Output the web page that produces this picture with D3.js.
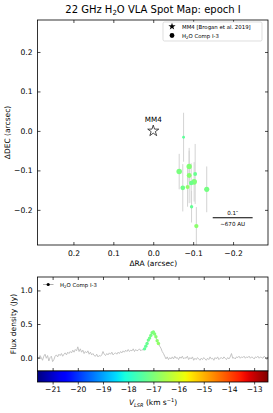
<!DOCTYPE html>
<html>
<head>
<meta charset="utf-8">
<script src="https://cdn.jsdelivr.net/npm/d3@7"></script>
<style>
  body { margin: 0; background: #fff; }
  svg text { font-family: "DejaVu Sans", sans-serif; fill: #000; }
</style>
</head>
<body>
<div id="chart"></div>
<script>
// spot map data (one spot per channel)
const spotRA   = [-0.076, -0.065, -0.090, -0.105, -0.090, -0.1025, -0.095, -0.074, -0.086, -0.134, -0.096, -0.108];
const spotDEC  = [-0.016, -0.103, -0.090, -0.109, -0.113, -0.129, -0.132, -0.144, -0.142, -0.148, -0.192, -0.241];
const spotErr  = [0.062, 0.045, 0.040, 0.076, 0.070, 0.050, 0.050, 0.060, 0.050, 0.058, 0.040, 0.048];
const spotVel  = [-17.35, -17.05, -16.95, -17.25, -16.90, -17.00, -17.20, -17.15, -16.80, -17.10, -17.30, -16.85];
const spotFlux = [0.13, 0.37, 0.35, 0.21, 0.31, 0.38, 0.26, 0.29, 0.21, 0.33, 0.17, 0.25];

const mapTicks = [0.2, 0.1, 0.0, -0.1, -0.2];

// spectrum: first channel velocity, channel width, flux per channel
const specV0 = -21.6;
const specDV = 0.05;
const specFlux = [
  0.01, -0.02, 0.03, 0.0, -0.04, 0.02, 0.05, -0.01, 0.03, -0.05, 0.0, 0.02, -0.06,
  -0.03, 0.02, 0.04, 0.01, 0.05, 0.03, 0.06, 0.02, 0.05, 0.07,
  0.04, 0.08, 0.06, 0.09, 0.07, 0.11, 0.08, 0.12, 0.10, 0.16,
  0.09, 0.13, 0.08, 0.11, 0.06, 0.09, 0.07, 0.10, 0.05, 0.08,
  0.04, 0.06, 0.03, 0.02, 0.05, 0.01, 0.03, 0.02, 0.04, 0.09,
  0.05, 0.03, 0.06, 0.04, 0.07, 0.05, 0.08, 0.04, 0.06, 0.07,
  0.05, 0.08, 0.06, 0.09, 0.07, 0.10, 0.08, 0.11, 0.09, 0.12,
  0.09, 0.11, 0.10, 0.13, 0.09, 0.12, 0.10, 0.11, 0.13, 0.10, 0.12, 0.11,
  0.13, 0.17, 0.21, 0.26, 0.29, 0.33, 0.37, 0.38, 0.35, 0.31, 0.25, 0.21,
  0.17, 0.14, 0.09, 0.06, 0.02, -0.02, 0.01, -0.03, 0.0, -0.02,
  0.01, -0.02, 0.02, -0.01, 0.0, -0.03, 0.01, -0.01, 0.02, -0.02,
  0.0, -0.01, 0.02, -0.03, 0.0, -0.02, 0.01, -0.04, -0.01, -0.03,
  0.0, -0.02, -0.04, -0.01, -0.03, 0.0, -0.02, -0.04, -0.01, -0.03,
  0.01, -0.02, -0.01, -0.04, 0.0, -0.02, 0.01, -0.03, -0.01, 0.0,
  -0.02, 0.01, -0.01, -0.03, 0.0, -0.02, 0.01, 0.06, -0.01, 0.0,
  -0.02, 0.01, 0.0, 0.02, -0.01, 0.01, 0.0, 0.02, -0.01, 0.01,
  0.0, 0.02, -0.01, 0.01, 0.0, -0.02, 0.01, 0.0, 0.02, -0.01,
  0.01, 0.0, -0.01, 0.02, 0.0, -0.03, 0.01
];
const fluxTicks = [0.0, 0.5, 1.0];
const velTicks = [-21, -20, -19, -18, -17, -16, -15, -14, -13];

const width = 273, height = 413;
const mapBox  = {left: 37.5, right: 268, top: 20, bottom: 245};
const specBox = {left: 37.5, right: 268, top: 277, bottom: 371};
const cbarH = 11;

const svg = d3.select('#chart').append('svg').attr('width', width).attr('height', height);

// jet colormap (matplotlib segments)
const jetR = d3.scaleLinear().domain([0, 0.35, 0.66, 0.89, 1]).range([0, 0, 1, 1, 0.5]).clamp(true);
const jetG = d3.scaleLinear().domain([0, 0.125, 0.375, 0.64, 0.91, 1]).range([0, 0, 1, 1, 0, 0]).clamp(true);
const jetB = d3.scaleLinear().domain([0, 0.11, 0.34, 0.65, 1]).range([0.5, 1, 1, 0, 0]).clamp(true);
const jet = t => d3.rgb(255 * jetR(t), 255 * jetG(t), 255 * jetB(t)).toString();

const vMin = -21.6, vMax = -12.45;
const vNorm = d3.scaleLinear().domain([vMin, vMax]).range([0, 1]);
const velColor = v => jet(vNorm(v));

// ---------- spot map ----------
const x = d3.scaleLinear().domain([0.29, -0.2875]).range([mapBox.left, mapBox.right]);
const y = d3.scaleLinear().domain([-0.289, 0.281]).range([mapBox.bottom, mapBox.top]);

svg.append('text').attr('x', 153).attr('y', 12.5).attr('text-anchor', 'middle')
  .style('font-size', '10px')
  .call(t => {
    t.append('tspan').text('22 GHz H');
    t.append('tspan').attr('dy', 2).style('font-size', '7px').text('2');
    t.append('tspan').attr('dy', -2).text('O VLA Spot Map: epoch I');
  });

const mapG = svg.append('g');

// error bars
mapG.selectAll('line.err').data(spotRA).enter().append('line')
  .attr('class', 'err')
  .attr('x1', (d, i) => x(d)).attr('x2', (d, i) => x(d))
  .attr('y1', (d, i) => y(spotDEC[i] + spotErr[i]))
  .attr('y2', (d, i) => y(Math.max(spotDEC[i] - spotErr[i], -0.289)))
  .attr('stroke', '#d3d3d3').attr('stroke-width', 1);

const rSize = d3.scaleSqrt().domain([0.13, 0.38]).range([1.4, 2.8]);
mapG.selectAll('circle.spot').data(spotRA).enter().append('circle')
  .attr('class', 'spot')
  .attr('cx', d => x(d))
  .attr('cy', (d, i) => y(spotDEC[i]))
  .attr('r', (d, i) => rSize(spotFlux[i]))
  .attr('fill', (d, i) => velColor(spotVel[i]));

// MM4 star
mapG.append('path')
  .attr('d', d3.symbol().type(d3.symbolStar).size(38)())
  .attr('transform', `translate(${x(0)},${y(0)})`)
  .attr('fill', 'none').attr('stroke', '#000').attr('stroke-width', 0.7);
mapG.append('text').attr('x', x(0)).attr('y', y(0) - 9).attr('text-anchor', 'middle')
  .style('font-size', '7.2px').text('MM4');

// scale bar 0.1 arcsec
const sbY = y(-0.22);
mapG.append('line').attr('x1', x(-0.149)).attr('x2', x(-0.249))
  .attr('y1', sbY).attr('y2', sbY).attr('stroke', '#000').attr('stroke-width', 1.2);
mapG.append('text').attr('x', x(-0.199)).attr('y', sbY - 3).attr('text-anchor', 'middle')
  .style('font-size', '5.6px').text('0.1″');
mapG.append('text').attr('x', x(-0.199)).attr('y', sbY + 8).attr('text-anchor', 'middle')
  .style('font-size', '5.6px').text('~670 AU');

// axes (ticks inward on all sides)
const mapAxes = svg.append('g');
mapAxes.append('g').attr('transform', `translate(0,${mapBox.bottom})`)
  .call(d3.axisBottom(x).tickValues(mapTicks).tickSizeInner(-3).tickSizeOuter(0).tickPadding(6).tickFormat(d3.format('.1f')));
mapAxes.append('g').attr('transform', `translate(0,${mapBox.top})`)
  .call(d3.axisTop(x).tickValues(mapTicks).tickSizeInner(-3).tickSizeOuter(0).tickFormat(''));
mapAxes.append('g').attr('transform', `translate(${mapBox.left},0)`)
  .call(d3.axisLeft(y).tickValues([-0.2, -0.1, 0.0, 0.1, 0.2]).tickSizeInner(-3).tickSizeOuter(0).tickPadding(5).tickFormat(d3.format('.1f')));
mapAxes.append('g').attr('transform', `translate(${mapBox.right},0)`)
  .call(d3.axisRight(y).tickValues([-0.2, -0.1, 0.0, 0.1, 0.2]).tickSizeInner(-3).tickSizeOuter(0).tickFormat(''));
mapAxes.selectAll('.domain').remove();
mapAxes.append('rect').attr('x', mapBox.left).attr('y', mapBox.top)
  .attr('width', mapBox.right - mapBox.left).attr('height', mapBox.bottom - mapBox.top)
  .attr('fill', 'none').attr('stroke', '#000').attr('stroke-width', 0.8);

svg.append('text').attr('x', (mapBox.left + mapBox.right) / 2 + 0.5).attr('y', 266).attr('text-anchor', 'middle')
  .style('font-size', '7.5px').text('ΔRA (arcsec)');
svg.append('text').attr('transform', `translate(10,${(mapBox.top + mapBox.bottom) / 2}) rotate(-90)`)
  .attr('text-anchor', 'middle').style('font-size', '7.5px').text('ΔDEC (arcsec)');

// legend
const leg = svg.append('g');
leg.append('rect').attr('x', 163).attr('y', 22).attr('width', 99).attr('height', 19).attr('rx', 1.5)
  .attr('fill', '#fff').attr('stroke', '#d0d0d0').attr('stroke-width', 0.7);
leg.append('path').attr('d', d3.symbol().type(d3.symbolStar).size(16)())
  .attr('transform', 'translate(172,26.5)').attr('fill', '#000');
leg.append('text').attr('x', 182).attr('y', 28.5).style('font-size', '5.4px').text('MM4 [Brogan et al. 2019]');
leg.append('circle').attr('cx', 172).attr('cy', 35.5).attr('r', 2.4).attr('fill', '#000');
leg.append('text').attr('x', 182).attr('y', 37.5).style('font-size', '5.4px')
  .call(t => {
    t.append('tspan').text('H');
    t.append('tspan').attr('dy', 1.2).style('font-size', '3.8px').text('2');
    t.append('tspan').attr('dy', -1.2).text('O Comp I-3');
  });

// ---------- spectrum ----------
const xs = d3.scaleLinear().domain([vMin, vMax]).range([specBox.left, specBox.right]);
const ys = d3.scaleLinear().domain([-0.2, 1.2]).range([specBox.bottom, specBox.top]);

const specData = specFlux.map((f, i) => ({v: specV0 + i * specDV, f: f}));
svg.append('path').datum(specData)
  .attr('d', d3.line().x(d => xs(d.v)).y(d => ys(d.f)))
  .attr('fill', 'none').attr('stroke', '#bdbdbd').attr('stroke-width', 0.9);

svg.append('g').selectAll('circle').data(spotVel).enter().append('circle')
  .attr('cx', d => xs(d))
  .attr('cy', (d, i) => ys(spotFlux[i]))
  .attr('r', 1.7)
  .attr('fill', d => velColor(d));

const specAxes = svg.append('g');
specAxes.append('g').attr('transform', `translate(0,${specBox.bottom})`)
  .call(d3.axisBottom(xs).tickValues(velTicks).tickSizeInner(-3).tickSizeOuter(0).tickFormat(''));
specAxes.append('g').attr('transform', `translate(0,${specBox.top})`)
  .call(d3.axisTop(xs).tickValues(velTicks).tickSizeInner(-3).tickSizeOuter(0).tickFormat(''));
specAxes.append('g').attr('transform', `translate(${specBox.left},0)`)
  .call(d3.axisLeft(ys).tickValues(fluxTicks).tickSizeInner(-3).tickSizeOuter(0).tickPadding(5).tickFormat(d3.format('.1f')));
specAxes.append('g').attr('transform', `translate(${specBox.right},0)`)
  .call(d3.axisRight(ys).tickValues(fluxTicks).tickSizeInner(-3).tickSizeOuter(0).tickFormat(''));
specAxes.selectAll('.domain').remove();
specAxes.append('rect').attr('x', specBox.left).attr('y', specBox.top)
  .attr('width', specBox.right - specBox.left).attr('height', specBox.bottom - specBox.top)
  .attr('fill', 'none').attr('stroke', '#000').attr('stroke-width', 0.8);

svg.append('text').attr('transform', `translate(16,${(specBox.top + specBox.bottom) / 2}) rotate(-90)`)
  .attr('text-anchor', 'middle').style('font-size', '7.5px').text('Flux density (Jy)');

// spectrum legend
svg.append('line').attr('x1', 43).attr('x2', 53.5).attr('y1', 284.5).attr('y2', 284.5)
  .attr('stroke', '#999').attr('stroke-width', 0.8);
svg.append('circle').attr('cx', 48.2).attr('cy', 284.5).attr('r', 1.6).attr('fill', '#000');
svg.append('text').attr('x', 60).attr('y', 286.5).style('font-size', '5.4px')
  .call(t => {
    t.append('tspan').text('H');
    t.append('tspan').attr('dy', 1.2).style('font-size', '3.8px').text('2');
    t.append('tspan').attr('dy', -1.2).text('O Comp I-3');
  });

// colorbar
const defs = svg.append('defs');
const grad = defs.append('linearGradient').attr('id', 'jetGrad').attr('x1', '0%').attr('x2', '100%');
d3.range(0, 1.0001, 0.02).forEach(t => {
  grad.append('stop').attr('offset', `${t * 100}%`).attr('stop-color', jet(t));
});
svg.append('rect').attr('x', specBox.left).attr('y', specBox.bottom)
  .attr('width', specBox.right - specBox.left).attr('height', cbarH)
  .attr('fill', 'url(#jetGrad)').attr('stroke', '#000').attr('stroke-width', 0.8);
const cbAxis = svg.append('g').attr('transform', `translate(0,${specBox.bottom + cbarH})`)
  .call(d3.axisBottom(xs).tickValues(velTicks).tickSizeInner(2.5).tickSizeOuter(0).tickPadding(2.5)
    .tickFormat(d => d3.format('d')(d).replace('-', '−')));
cbAxis.select('.domain').remove();

svg.append('text').attr('x', 153).attr('y', 405).attr('text-anchor', 'middle')
  .style('font-size', '7.5px')
  .call(t => {
    t.append('tspan').style('font-style', 'italic').text('V');
    t.append('tspan').attr('dy', 1.5).style('font-style', 'italic').style('font-size', '5px').text('LSR');
    t.append('tspan').attr('dy', -1.5).text(' (km s');
    t.append('tspan').attr('dy', -3).style('font-size', '5px').text('−1');
    t.append('tspan').attr('dy', 3).text(')');
  });

// tick label styling
svg.selectAll('.tick text').style('font-size', '7.6px').style('font-family', '"DejaVu Sans", sans-serif');
svg.selectAll('.tick line').attr('stroke', '#000').attr('stroke-width', 0.7);
</script>
</body>
</html>
